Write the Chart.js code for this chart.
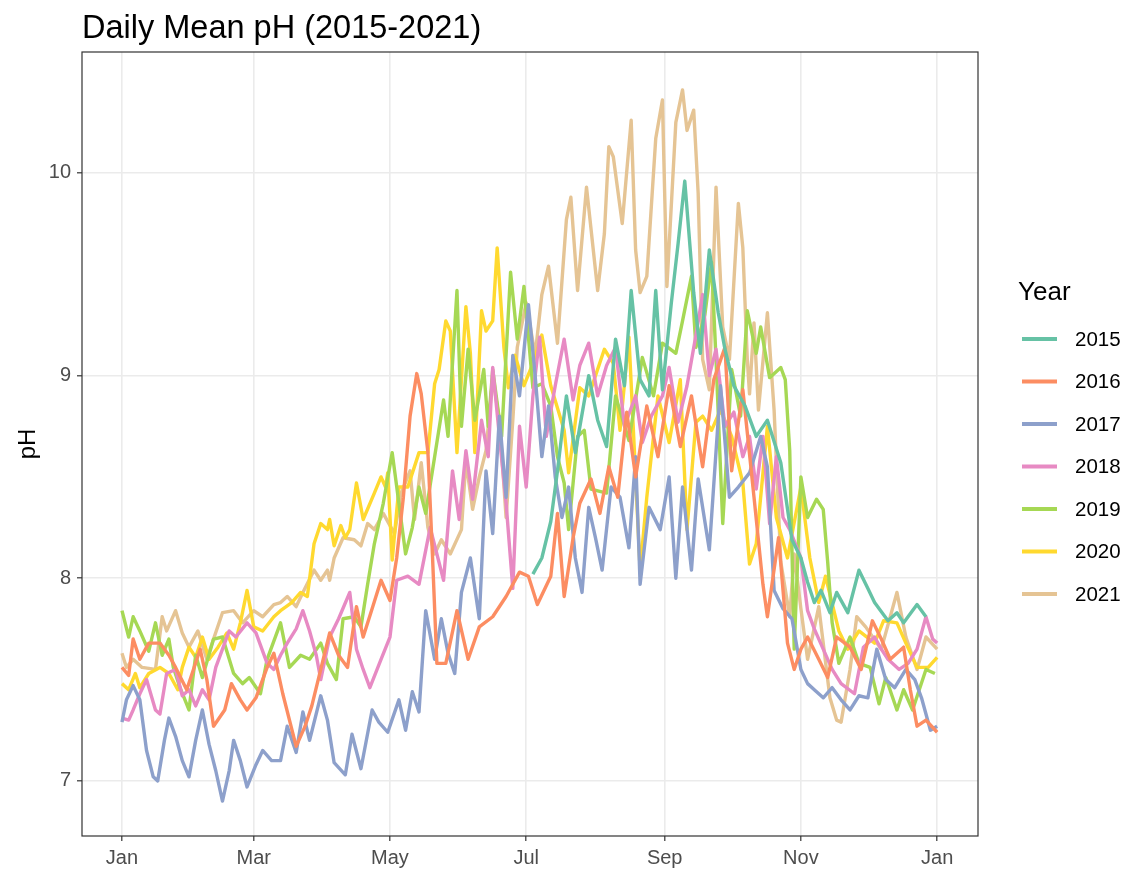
<!DOCTYPE html>
<html>
<head>
<meta charset="utf-8">
<script src="https://cdn.jsdelivr.net/npm/chart.js@4.4.1/dist/chart.umd.min.js"></script>
<style>
html,body{margin:0;padding:0;background:#fff;}
canvas{display:block;}
</style>
</head>
<body>
<canvas id="c" width="1128" height="871"></canvas>
<script>
const TITLE = "Daily Mean pH (2015-2021)";
const Y_TITLE = "pH";
const LEGEND_TITLE = "Year";
const years = ["2015","2016","2017","2018","2019","2020","2021"];
const colors = ["#66C2A5","#FC8D62","#8DA0CB","#E78AC3","#A6D854","#FFD92F","#E5C494"];
const xTickDays = [0,59,120,181,243,304,365];
const xTickLabels = ["Jan","Mar","May","Jul","Sep","Nov","Jan"];
const yTicks = [7,8,9,10];

// 2015
const days2015 = [184,188,192,195,199,203,209,213,217,221,225,228,232,236,239,242,246,249,252,256,259,263,267,270,274,279,284,289,295,300,304,307,310,313,317,320,325,330,334,337,343,347,350,356,360];
const ph2015 = [8.02,8.10,8.28,8.53,8.90,8.62,9.00,8.78,8.65,9.18,8.95,9.42,8.98,8.90,9.42,8.93,9.36,9.65,9.96,9.41,9.11,9.62,9.31,9.13,8.95,8.85,8.70,8.78,8.57,8.19,8.10,7.98,7.88,7.94,7.83,7.93,7.83,8.04,7.95,7.88,7.79,7.83,7.78,7.87,7.81];

// 2016
const days2016 = [0,3,5,8,12,17,21,24,29,32,35,38,41,46,49,53,56,60,65,68,72,75,78,82,85,89,93,97,101,105,108,112,116,120,123,126,129,132,134,137,139,141,145,150,155,160,166,172,178,182,186,192,195,198,202,205,210,214,218,222,226,230,235,240,245,250,255,260,265,270,273,278,283,287,289,294,298,301,304,307,312,316,320,326,331,336,340,344,350,353,356,360,365];
const ph2016 = [7.56,7.52,7.70,7.60,7.68,7.68,7.62,7.56,7.45,7.55,7.65,7.50,7.27,7.35,7.48,7.40,7.35,7.41,7.56,7.63,7.43,7.30,7.17,7.27,7.37,7.55,7.73,7.62,7.56,7.86,7.71,7.85,7.99,7.89,8.10,8.40,8.80,9.01,8.91,8.62,8.12,7.58,7.58,7.84,7.60,7.76,7.81,7.91,8.03,8.01,7.87,8.01,8.32,7.91,8.20,8.37,8.49,8.32,8.55,8.40,8.82,8.50,8.85,8.60,8.95,8.65,8.90,8.55,8.98,9.14,8.53,8.93,8.40,7.97,7.81,8.20,7.68,7.55,7.65,7.71,7.60,7.51,7.71,7.66,7.55,7.79,7.70,7.60,7.66,7.45,7.27,7.30,7.24];

// 2017
const days2017 = [0,2,5,8,11,14,16,19,21,24,27,30,33,36,39,42,45,48,50,53,56,60,63,67,71,74,78,81,84,89,92,95,100,103,107,112,115,119,124,127,130,133,136,140,143,146,149,152,156,160,163,166,169,172,175,178,182,185,188,191,194,197,200,203,206,209,212,215,219,223,227,230,232,236,241,245,248,251,255,258,263,268,272,276,281,286,289,292,296,300,304,307,310,314,318,322,326,330,334,338,342,346,351,355,358,362,365];
const ph2017 = [7.29,7.40,7.47,7.40,7.15,7.02,7.00,7.20,7.31,7.22,7.10,7.02,7.20,7.35,7.18,7.05,6.90,7.05,7.20,7.10,6.97,7.08,7.15,7.10,7.10,7.27,7.14,7.34,7.20,7.42,7.30,7.09,7.03,7.23,7.06,7.35,7.29,7.24,7.40,7.25,7.44,7.34,7.84,7.60,7.80,7.63,7.53,7.93,8.10,7.80,8.53,8.22,8.80,8.40,9.10,8.90,9.35,9.00,8.60,8.85,8.50,8.30,8.45,8.10,7.93,8.35,8.20,8.04,8.45,8.40,8.15,8.60,7.97,8.35,8.24,8.50,8.00,8.45,8.04,8.49,8.14,8.95,8.40,8.45,8.52,8.70,8.55,7.94,7.85,7.80,7.55,7.48,7.45,7.41,7.46,7.40,7.35,7.42,7.41,7.65,7.50,7.46,7.55,7.50,7.41,7.25,7.27];

// 2018
const days2018 = [0,3,5,8,11,15,17,20,24,27,30,33,36,39,42,45,48,51,56,60,65,68,71,74,78,81,84,87,89,93,97,102,105,108,111,116,120,123,128,133,138,144,148,151,154,157,161,164,166,169,172,175,178,181,184,187,190,194,198,202,205,209,213,217,221,225,230,233,237,242,245,249,253,257,260,263,266,270,274,278,281,284,287,290,293,296,299,304,307,310,314,318,322,328,332,337,340,343,348,352,356,360,363,365];
const ph2018 = [7.31,7.30,7.35,7.43,7.50,7.35,7.33,7.53,7.55,7.42,7.45,7.37,7.45,7.40,7.56,7.65,7.74,7.71,7.78,7.73,7.58,7.55,7.62,7.68,7.75,7.84,7.74,7.62,7.50,7.71,7.80,7.93,7.65,7.55,7.46,7.60,7.71,7.99,8.01,7.97,8.25,7.99,8.53,8.29,8.63,8.39,8.78,8.60,9.04,8.70,8.37,7.95,8.75,8.45,8.90,9.19,8.70,8.95,9.18,8.88,9.05,9.16,8.90,9.05,9.14,8.75,8.90,8.67,8.80,8.90,9.04,8.77,8.95,9.20,9.40,9.00,9.13,8.75,8.82,8.60,8.70,8.44,8.70,8.27,8.60,8.30,8.24,8.10,7.84,7.75,7.65,7.55,7.48,7.43,7.66,7.71,7.65,7.60,7.55,7.58,7.65,7.81,7.70,7.68];

// 2019
const days2019 = [0,3,5,8,12,15,18,21,23,26,30,33,36,41,45,50,54,57,62,65,71,75,80,84,89,92,96,99,104,107,110,113,117,121,124,127,130,133,136,140,144,146,150,152,155,158,162,164,166,170,174,177,180,184,188,192,195,198,200,204,207,210,217,221,227,233,238,242,248,251,255,257,261,264,266,269,273,277,280,284,286,290,295,297,299,301,304,307,311,314,316,318,321,326,330,335,339,342,347,350,354,357,360,364];
const ph2019 = [7.84,7.71,7.81,7.74,7.64,7.78,7.62,7.70,7.56,7.46,7.35,7.62,7.51,7.70,7.71,7.53,7.48,7.51,7.43,7.60,7.78,7.56,7.62,7.60,7.68,7.58,7.50,7.80,7.81,7.76,7.97,8.17,8.37,8.62,8.37,8.12,8.25,8.45,8.32,8.60,8.88,8.70,9.42,8.75,9.13,8.78,9.03,8.75,9.03,8.70,9.51,9.18,9.44,8.94,8.96,8.85,8.60,8.47,8.24,8.70,8.73,8.44,8.42,8.90,8.68,9.09,8.90,9.16,9.11,9.27,9.49,9.14,9.30,9.56,9.08,8.27,9.03,8.80,9.32,9.11,9.24,8.99,9.04,8.98,8.63,7.65,8.50,8.30,8.39,8.34,8.08,7.78,7.58,7.71,7.58,7.56,7.38,7.51,7.35,7.45,7.35,7.45,7.55,7.53];

// 2020
const days2020 = [0,3,6,8,12,17,21,25,27,30,33,36,39,43,47,50,53,56,59,63,68,71,76,80,83,86,89,92,93,95,98,100,102,105,108,113,116,118,119,121,124,128,133,137,140,142,145,147,150,154,156,158,161,163,166,168,171,173,176,180,184,188,192,198,200,205,209,216,220,223,227,232,235,240,245,250,253,257,260,264,268,273,278,281,284,289,293,298,304,308,312,315,321,325,330,337,341,347,351,356,361,365];
const ph2020 = [7.48,7.45,7.53,7.46,7.53,7.56,7.53,7.45,7.56,7.66,7.61,7.71,7.60,7.66,7.73,7.65,7.78,7.94,7.76,7.74,7.81,7.84,7.88,7.93,7.91,8.17,8.27,8.24,8.29,8.16,8.26,8.20,8.24,8.47,8.29,8.42,8.50,8.45,8.52,8.09,8.45,8.45,8.62,8.62,8.96,9.03,9.27,9.22,8.62,9.34,9.11,8.62,9.32,9.22,9.27,9.63,9.14,8.94,9.10,8.95,9.06,9.20,8.95,8.73,8.52,8.94,8.90,9.13,9.06,8.73,9.19,8.04,8.40,8.90,8.67,8.98,8.24,8.77,8.80,8.73,8.83,8.70,8.47,8.07,8.17,8.75,8.30,8.10,8.45,8.10,7.88,8.01,7.74,7.65,7.74,7.68,7.79,7.78,7.68,7.56,7.56,7.61];

// 2021
const days2021 = [0,2,5,9,15,18,20,24,27,30,34,38,41,45,50,54,59,63,68,71,74,78,81,86,89,92,93,95,99,104,107,110,113,117,122,125,129,131,134,137,140,143,147,152,154,157,160,163,166,169,172,175,177,181,185,188,191,195,199,201,204,208,213,216,218,220,224,228,230,232,235,239,242,244,248,251,253,256,258,260,263,266,269,272,276,278,280,281,283,285,289,292,295,299,301,304,307,312,317,320,322,326,329,333,340,347,351,356,360,365];
const ph2021 = [7.63,7.56,7.60,7.56,7.55,7.81,7.74,7.84,7.73,7.66,7.74,7.60,7.70,7.83,7.84,7.78,7.84,7.81,7.87,7.88,7.91,7.86,7.93,8.04,7.99,8.04,7.99,8.10,8.20,8.19,8.16,8.27,8.24,8.32,8.22,8.42,8.53,8.29,8.57,8.25,8.12,8.19,8.12,8.24,8.58,8.34,8.50,8.63,8.99,8.78,8.30,8.78,9.14,9.36,9.10,9.40,9.54,9.16,9.77,9.88,9.42,9.93,9.42,9.70,10.13,10.08,9.75,10.26,9.62,9.41,9.49,10.17,10.36,9.44,10.25,10.41,10.21,10.31,9.90,9.08,8.93,9.93,9.24,9.08,9.85,9.63,9.08,8.91,9.26,8.83,9.31,8.83,8.08,7.81,8.12,7.85,7.60,7.86,7.41,7.30,7.29,7.55,7.81,7.76,7.65,7.93,7.71,7.55,7.71,7.65];

const seriesDays = [days2015,days2016,days2017,days2018,days2019,days2020,days2021];
const seriesPh = [ph2015,ph2016,ph2017,ph2018,ph2019,ph2020,ph2021];

const FONT = '"Liberation Sans", Arial, Helvetica, sans-serif';

const datasets = years.map((yr, k) => ({
  label: yr,
  data: seriesDays[k].map((d, i) => ({x: d, y: seriesPh[k][i]})),
  borderColor: colors[k],
  backgroundColor: colors[k],
  borderWidth: 3.4,
  pointRadius: 0,
  pointHoverRadius: 0,
  tension: 0,
  fill: false,
  borderJoinStyle: 'round',
  borderCapStyle: 'butt'
}));

const decor = {
  id: 'decor',
  afterDraw(chart) {
    const ctx = chart.ctx;
    const a = chart.chartArea;
    ctx.save();
    // panel border
    ctx.strokeStyle = '#333333';
    ctx.lineWidth = 1.2;
    ctx.strokeRect(a.left, a.top, a.right - a.left, a.bottom - a.top);
    // title
    ctx.fillStyle = '#000000';
    ctx.font = '32.5px ' + FONT;
    ctx.textAlign = 'left';
    ctx.textBaseline = 'alphabetic';
    ctx.fillText(TITLE, a.left, 38);
    // y title
    ctx.save();
    ctx.translate(28, (a.top + a.bottom) / 2);
    ctx.rotate(-Math.PI / 2);
    ctx.font = '24px ' + FONT;
    ctx.textAlign = 'center';
    ctx.textBaseline = 'middle';
    ctx.fillText(Y_TITLE, 0, 0);
    ctx.restore();
    // legend
    ctx.font = '26px ' + FONT;
    ctx.textAlign = 'left';
    ctx.textBaseline = 'middle';
    ctx.fillStyle = '#000000';
    ctx.fillText(LEGEND_TITLE, 1018, 293);
    ctx.font = '20.5px ' + FONT;
    chart.data.datasets.forEach((ds, i) => {
      const yy = 339 + i * 42.5;
      ctx.strokeStyle = ds.borderColor;
      ctx.lineWidth = 4;
      ctx.beginPath();
      ctx.moveTo(1022, yy);
      ctx.lineTo(1057, yy);
      ctx.stroke();
      ctx.fillStyle = '#000000';
      ctx.fillText(ds.label, 1075, yy + 1);
    });
    ctx.restore();
  }
};

new Chart(document.getElementById('c'), {
  type: 'line',
  data: { datasets },
  options: {
    responsive: false,
    animation: false,
    parsing: false,
    normalized: true,
    events: [],
    layout: { padding: { top: 52, right: 150, left: 0, bottom: 0 } },
    plugins: { legend: { display: false }, title: { display: false }, tooltip: { enabled: false } },
    scales: {
      x: {
        type: 'linear',
        min: -17.9,
        max: 383.3,
        afterBuildTicks: s => { s.ticks = xTickDays.map(v => ({ value: v })); },
        afterFit: s => { s.height = 35; },
        grid: { color: '#EBEBEB', lineWidth: 1.6, tickColor: '#333333', tickLength: 5, tickWidth: 1.2, drawTicks: true },
        border: { display: false },
        ticks: {
          color: '#4D4D4D',
          font: { family: FONT, size: 20 },
          padding: 5,
          maxRotation: 0,
          autoSkip: false,
          callback: v => xTickLabels[xTickDays.indexOf(v)]
        }
      },
      y: {
        type: 'linear',
        min: 6.728,
        max: 10.597,
        afterBuildTicks: s => { s.ticks = yTicks.map(v => ({ value: v })); },
        afterFit: s => { s.width = 82; },
        grid: { color: '#EBEBEB', lineWidth: 1.6, tickColor: '#333333', tickLength: 5, tickWidth: 1.2, drawTicks: true },
        border: { display: false },
        ticks: {
          color: '#4D4D4D',
          font: { family: FONT, size: 20 },
          padding: 6,
          autoSkip: false,
          callback: v => String(v)
        }
      }
    }
  },
  plugins: [decor]
});
</script>
</body>
</html>
